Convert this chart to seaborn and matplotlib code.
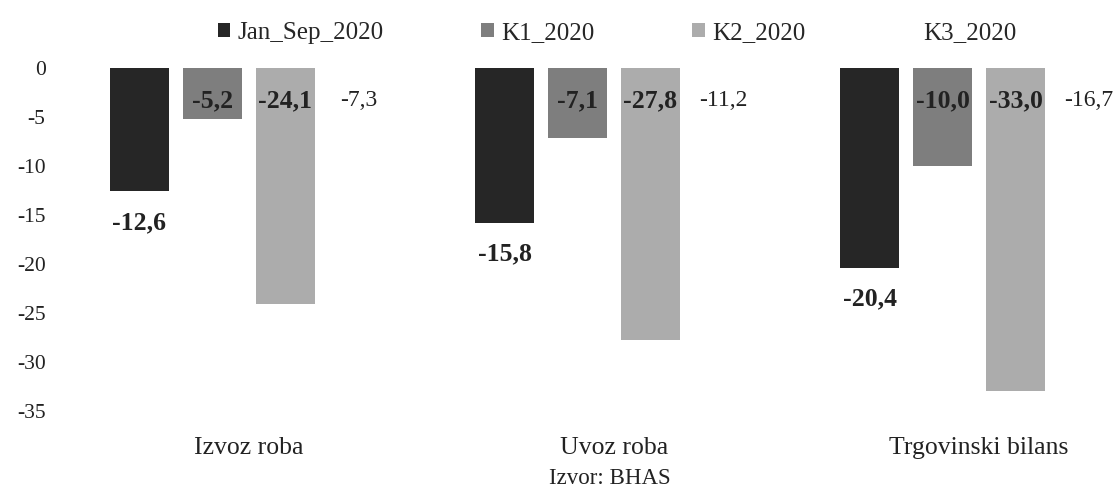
import matplotlib
matplotlib.use("Agg")
import matplotlib.pyplot as plt
import seaborn as sns
import pandas as pd

categories = ["Izvoz roba", "Uvoz roba", "Trgovinski bilans"]
series = ["Jan_Sep_2020", "K1_2020", "K2_2020", "K3_2020"]
jan_sep = [-12.6, -15.8, -20.4]
k1 = [-5.2, -7.1, -10.0]
k2 = [-24.1, -27.8, -33.0]
k3 = [-7.3, -11.2, -16.7]
yticks = [0, -5, -10, -15, -20, -25, -30, -35]
source = "Izvor: BHAS"

rows = []
for s, vals in zip(series, [jan_sep, k1, k2, k3]):
    for c, v in zip(categories, vals):
        rows.append({"cat": c, "series": s, "val": v})
df = pd.DataFrame(rows)

sns.set_theme(style="white")
plt.rcParams["font.family"] = ["Liberation Serif", "DejaVu Serif"]

fig = plt.figure(figsize=(11.2, 4.92), dpi=100)
# 0 at y=68 px, 9.8 px per unit
top_px = 68 - 9.8 * 1
bot_px = 68 + 9.8 * 36
ax = fig.add_axes([65 / 1120, 1 - bot_px / 492, 1 - 65 / 1120, (bot_px - top_px) / 492])

palette = {"Jan_Sep_2020": "#262626", "K1_2020": "#7e7e7e",
           "K2_2020": "#acacac", "K3_2020": "#ffffff"}
sns.barplot(data=df, x="cat", y="val", hue="series", order=categories,
            hue_order=series, palette=palette, width=0.8, gap=0.2,
            saturation=1, ax=ax, linewidth=0)

ax.set_ylim(-36, 1)
ax.set_xlim(-0.504, 2.386)
ax.set_yticks(yticks)
ax.set_yticklabels([str(t) for t in yticks], fontsize=15.5, color="#222222")
ax.tick_params(axis="y", length=0, pad=14)
ax.tick_params(axis="x", length=0, pad=12)
ax.set_xticks(range(len(categories)))
ax.set_xticklabels(categories, fontsize=18.5, color="#222222")
ax.set_xlabel("")
ax.set_ylabel("")
for sp in ax.spines.values():
    sp.set_visible(False)

fmt = lambda v: f"{v:.1f}".replace(".", ",")
for i, cont in enumerate(ax.containers):
    vals = [jan_sep, k1, k2, k3][i]
    if i == 0:
        ax.bar_label(cont, labels=[fmt(v) for v in vals], padding=14,
                     fontsize=18.5, fontweight="bold", color="#222222")
    else:
        for p, v in zip(cont.patches, vals):
            ax.text(p.get_x() + p.get_width() / 2, -3.3, fmt(v),
                    ha="center", va="center", fontsize=18.5 if i < 3 else 17,
                    fontweight="bold" if i < 3 else "normal", color="#222222")

handles, labels = ax.get_legend_handles_labels()
ax.legend_.remove()
fig.legend(handles, labels, loc="center", bbox_to_anchor=(617 / 1120, 1 - 33 / 492),
           ncol=4, frameon=False, fontsize=18, handlelength=0.5, handleheight=0.5,
           handletextpad=0.3, columnspacing=3.9)

fig.text(610 / 1120, 1 - 478 / 492, source, ha="center", va="center",
         fontsize=16.5, color="#222222")

fig.savefig("out.png", dpi=100, facecolor="white")
